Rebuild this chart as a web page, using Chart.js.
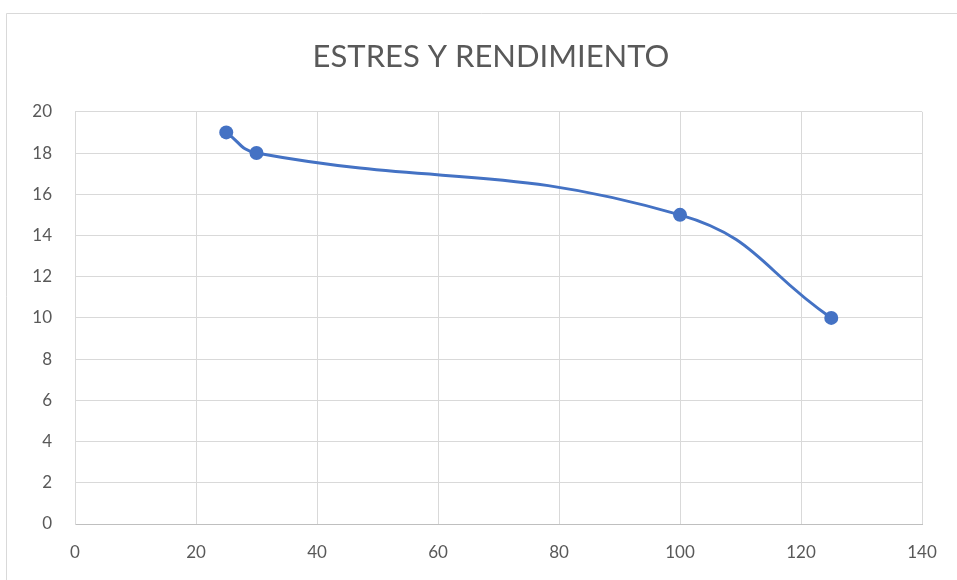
<!DOCTYPE html>
<html>
<head>
<meta charset="utf-8">
<script src="https://cdn.jsdelivr.net/npm/chart.js@4"></script>
<style>
  html, body { margin: 0; padding: 0; background: #fff; overflow: hidden; }
  #wrap { width: 957px; height: 580px; }
</style>
</head>
<body>
<div id="wrap"><canvas id="canvas" width="957" height="580"></canvas></div>
<script>
// datos del grafico
var titulo = "ESTRES Y RENDIMIENTO";
var estres = [25, 30, 100, 125];
var rendimiento = [19, 18, 15, 10];
var xMin = 0, xMax = 140, xPaso = 20;
var yMin = 0, yMax = 20, yPaso = 2;

var puntos = estres.map(function (x, i) { return { x: x, y: rendimiento[i] }; });

var fuente = "Lato, 'Open Sans', sans-serif";

// marco gris del area del grafico (solo se ven el borde izquierdo y el superior)
var marco = {
    id: 'marco',
    beforeDraw: function (chart) {
        var ctx = chart.ctx;
        ctx.save();
        ctx.fillStyle = '#ffffff';
        ctx.fillRect(0, 0, chart.width, chart.height);
        ctx.strokeStyle = '#d9d9d9';
        ctx.lineWidth = 1;
        ctx.beginPath();
        ctx.moveTo(6.5, chart.height);
        ctx.lineTo(6.5, 13.5);
        ctx.lineTo(chart.width, 13.5);
        ctx.stroke();
        ctx.restore();
    },
    // titulo centrado como en Excel (un poco a la izquierda del area de trazado)
    afterDraw: function (chart) {
        var ctx = chart.ctx;
        ctx.save();
        ctx.fillStyle = '#595959';
        ctx.font = "31px " + fuente;
        ctx.textAlign = 'center';
        ctx.textBaseline = 'middle';
        ctx.fillText(titulo, 491, 57);
        ctx.restore();
    }
};

new Chart(document.getElementById("canvas").getContext("2d"), {
    type: 'scatter',
    data: {
        datasets: [{
            label: titulo,
            data: puntos,
            showLine: true,
            tension: 0.45,
            borderColor: '#4472c4',
            backgroundColor: '#4472c4',
            borderWidth: 3,
            pointRadius: 7,
            pointHoverRadius: 7,
            pointBorderWidth: 0
        }]
    },
    options: {
        responsive: false,
        animation: false,
        layout: { padding: { left: 6, right: 35, top: 0, bottom: 0 } },
        plugins: {
            legend: { display: false },
            tooltip: { enabled: false },
            // reserva el espacio del titulo; el texto se dibuja en el plugin
            title: {
                display: true,
                text: titulo,
                color: 'rgba(0,0,0,0)',
                font: { family: fuente, size: 29, weight: 'normal', lineHeight: 1.2 },
                padding: { top: 39, bottom: 38 }
            }
        },
        scales: {
            x: {
                type: 'linear',
                min: xMin, max: xMax,
                ticks: {
                    stepSize: xPaso,
                    color: '#595959',
                    font: { family: fuente, size: 17 },
                    padding: 18,
                    maxRotation: 0
                },
                grid: { color: '#d9d9d9', lineWidth: 1, drawTicks: false },
                border: { color: '#bfbfbf', width: 1 },
                afterFit: function (s) { s.height = 56; }
            },
            y: {
                type: 'linear',
                min: yMin, max: yMax,
                ticks: {
                    stepSize: yPaso,
                    color: '#595959',
                    font: { family: fuente, size: 17 },
                    padding: 23
                },
                grid: { color: '#d9d9d9', lineWidth: 1, drawTicks: false },
                border: { color: '#d9d9d9', width: 1 },
                afterFit: function (s) { s.width = 69; }
            }
        }
    },
    plugins: [marco]
});
</script>
</body>
</html>
